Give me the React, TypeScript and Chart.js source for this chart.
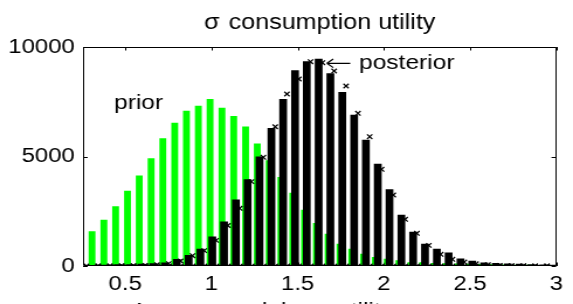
import React, { useEffect, useRef } from 'react';
import { Chart, registerables } from 'chart.js';

Chart.register(...registerables);

// ---- data ----
const priorBins = [0.307, 0.376, 0.444, 0.513, 0.581, 0.650, 0.718, 0.787, 0.855, 0.924, 0.992, 1.061, 1.129, 1.198, 1.266, 1.335, 1.403, 1.472, 1.540, 1.609, 1.677, 1.746, 1.814, 1.883, 1.951, 2.020, 2.088, 2.157, 2.225, 2.294, 2.362, 2.431, 2.499, 2.568, 2.636, 2.705, 2.773, 2.842, 2.910, 2.979];
const priorCounts = [1566, 2100, 2708, 3425, 4123, 4900, 5813, 6530, 7078, 7306, 7610, 7215, 6835, 6360, 5584, 4808, 4050, 3333, 2557, 1950, 1461, 1004, 776, 548, 397, 320, 242, 151, 151, 123, 110, 95, 85, 75, 65, 55, 45, 40, 35, 30];

const postBins = [0.319, 0.388, 0.456, 0.525, 0.593, 0.662, 0.730, 0.799, 0.868, 0.936, 1.005, 1.073, 1.142, 1.210, 1.279, 1.348, 1.416, 1.485, 1.553, 1.622, 1.690, 1.759, 1.828, 1.896, 1.965, 2.033, 2.102, 2.170, 2.239, 2.308, 2.376, 2.445, 2.513, 2.582, 2.650, 2.719, 2.788, 2.856, 2.925, 2.993];
const postCounts = [20, 40, 60, 70, 90, 110, 150, 306, 489, 776, 1330, 2015, 3027, 3950, 4985, 6290, 7612, 8918, 9329, 9452, 8781, 7932, 6895, 5753, 4650, 3490, 2329, 1550, 1000, 770, 607, 330, 230, 150, 120, 100, 90, 70, 50, 40];

const markerBins = [0.341, 0.410, 0.478, 0.547, 0.615, 0.684, 0.752, 0.821, 0.890, 0.958, 1.027, 1.095, 1.164, 1.232, 1.301, 1.370, 1.438, 1.507, 1.575, 1.644, 1.712, 1.781, 1.850, 1.918, 1.987, 2.055, 2.124, 2.192, 2.261, 2.330, 2.398, 2.467, 2.535, 2.604, 2.672, 2.741, 2.810, 2.878, 2.947];
const markerCounts = [0, 0, 10, 20, 30, 60, 110, 228, 470, 700, 1170, 1850, 2635, 3850, 4963, 6360, 7854, 8539, 9329, 9283, 8904, 8219, 6973, 5904, 4416, 3242, 2132, 1493, 940, 534, 306, 180, 100, 60, 30, 20, 10, 0, 0];

const baseMarkerBins = [0.275, 0.344, 0.412, 0.481, 0.549, 0.618, 0.686, 0.755, 0.823, 0.892, 0.960, 1.029, 1.097, 1.166, 1.234, 1.303, 1.371, 1.440, 1.508, 1.577, 1.645, 1.714, 1.782, 1.851, 1.919, 1.988, 2.056, 2.125, 2.193, 2.262, 2.330, 2.399, 2.467, 2.536, 2.604, 2.673, 2.741, 2.810, 2.878, 2.947];
const baseMarkerCounts = [0, 0, 0, 0, 0, 0, 0, 0, 0, 0, 0, 0, 0, 0, 0, 0, 0, 0, 0, 0, 0, 0, 0, 0, 0, 0, 0, 0, 0, 0, 0, 0, 0, 0, 0, 0, 0, 0, 0, 0];

const xTicks = [0.5, 1, 1.5, 2, 2.5, 3];
const yTicks = [0, 5000, 10000];
const xMin = 0.255;
const xMax = 3;
const yMin = 0;
const yMax = 10000;

const titleSigma = 'σ';
const titleText = 'consumption utility';
const priorLabel = 'prior';
const posteriorLabel = 'posterior';
const bottomTextA = '4';
const bottomTextB = 'labour utility';

// ---- layout ----
const CW = 490;
const CH = 304;
const DW = 573;
const FONT = '"Liberation Sans", Arial, Helvetica, sans-serif';

const overlayPlugin = {
  id: 'matlabOverlay',
  beforeDatasetsDraw(chart: any) {
    const { ctx, chartArea, scales } = chart;
    const { left, right, top, bottom } = chartArea;
    ctx.save();
    ctx.strokeStyle = '#000';
    ctx.lineWidth = 1;
    ctx.beginPath();
    for (const v of xTicks) {
      const px = Math.round(scales.x.getPixelForValue(v)) + 0.5;
      ctx.moveTo(px, top);
      ctx.lineTo(px, top + 3.5);
      ctx.moveTo(px, bottom);
      ctx.lineTo(px, bottom - 3.5);
    }
    for (const v of yTicks) {
      const py = Math.round(scales.y.getPixelForValue(v)) + 0.5;
      ctx.moveTo(left, py);
      ctx.lineTo(left + 4, py);
      ctx.moveTo(right, py);
      ctx.lineTo(right - 4, py);
    }
    ctx.stroke();
    ctx.restore();
  },
  afterDatasetsDraw(chart: any) {
    const { ctx, chartArea } = chart;
    const { left, right, top, bottom } = chartArea;
    ctx.save();
    ctx.strokeStyle = '#000';
    ctx.lineWidth = 1;
    ctx.beginPath();
    ctx.moveTo(Math.round(left) + 0.5, Math.round(top) + 0.5);
    ctx.lineTo(Math.round(right) - 0.5, Math.round(top) + 0.5);
    ctx.lineTo(Math.round(right) - 0.5, Math.round(bottom) - 0.5);
    ctx.lineTo(Math.round(left) + 0.5, Math.round(bottom) - 0.5);
    ctx.closePath();
    ctx.stroke();

    ctx.fillStyle = '#000';
    ctx.textBaseline = 'alphabetic';
    ctx.textAlign = 'left';
    ctx.font = `21.5px ${FONT}`;
    ctx.fillText(titleSigma, 174.5, 28.5);
    ctx.fillText(titleText, 195.5, 28.5);
    ctx.font = `21px ${FONT}`;
    ctx.fillText(priorLabel, 97.5, 108.5);
    ctx.fillText(posteriorLabel, 307, 68.5);
    ctx.fillText(bottomTextA, 111.2, 317);
    ctx.fillText(bottomTextB, 224, 317);

    // left arrow
    ctx.lineWidth = 1.2;
    ctx.beginPath();
    ctx.moveTo(279.5, 63.3);
    ctx.lineTo(299.5, 63.3);
    ctx.moveTo(279.5, 63.3);
    ctx.lineTo(285, 59);
    ctx.moveTo(279.5, 63.3);
    ctx.lineTo(285, 67.6);
    ctx.stroke();
    ctx.restore();
  },
};

export default function App() {
  const canvasRef = useRef<HTMLCanvasElement | null>(null);

  useEffect(() => {
    const canvas = canvasRef.current;
    if (!canvas) return;
    const tickFont = { family: FONT, size: 20.5 };
    const chart = new Chart(canvas, {
      type: 'bar',
      data: {
        datasets: [
          {
            type: 'scatter',
            label: 'marks',
            data: markerBins.map((x, i) => ({ x, y: markerCounts[i] })),
            pointStyle: 'crossRot',
            pointRadius: 3.2,
            borderColor: '#000',
            backgroundColor: '#000',
            borderWidth: 1.2,
            order: 0,
          } as any,
          {
            type: 'scatter',
            label: 'base marks',
            data: baseMarkerBins.map((x, i) => ({ x, y: baseMarkerCounts[i] })),
            pointStyle: 'crossRot',
            pointRadius: 3.2,
            borderColor: '#000',
            backgroundColor: '#000',
            borderWidth: 1.2,
            order: 0,
          } as any,
          {
            type: 'bar',
            label: 'posterior',
            data: postBins.map((x, i) => ({ x, y: postCounts[i] })),
            backgroundColor: '#000000',
            borderWidth: 0,
            barThickness: 6,
            grouped: false,
            order: 1,
          } as any,
          {
            type: 'bar',
            label: 'prior',
            data: priorBins.map((x, i) => ({ x, y: priorCounts[i] })),
            backgroundColor: '#00ff00',
            borderWidth: 0,
            barThickness: 5.2,
            grouped: false,
            order: 2,
          } as any,
        ],
      },
      options: {
        responsive: false,
        maintainAspectRatio: false,
        devicePixelRatio: 1,
        animation: false,
        layout: { padding: { top: 47, right: CW - 475.6, left: 0, bottom: 0 } },
        plugins: {
          legend: { display: false },
          tooltip: { enabled: false },
          title: { display: false },
        },
        scales: {
          x: {
            type: 'linear',
            min: xMin,
            max: xMax,
            offset: false,
            grid: { display: false, drawTicks: false },
            border: { display: false },
            ticks: {
              font: tickFont,
              color: '#000',
              padding: 6,
              autoSkip: false,
              maxRotation: 0,
              callback: (v: any) => String(v),
            },
            afterBuildTicks: (s: any) => {
              s.ticks = xTicks.map((v) => ({ value: v }));
            },
            afterFit: (s: any) => {
              s.height = 38;
            },
          },
          y: {
            type: 'linear',
            min: yMin,
            max: yMax,
            grid: { display: false, drawTicks: false },
            border: { display: false },
            ticks: {
              font: tickFont,
              color: '#000',
              padding: 7,
              autoSkip: false,
              callback: (v: any) => String(v),
            },
            afterBuildTicks: (s: any) => {
              s.ticks = yTicks.map((v) => ({ value: v }));
            },
            afterFit: (s: any) => {
              s.width = 71;
            },
          },
        },
      } as any,
      plugins: [overlayPlugin],
    });
    return () => chart.destroy();
  }, []);

  return (
    <div style={{ position: 'fixed', left: 0, top: 0, width: DW, height: CH, background: '#fff' }}>
      <canvas
        ref={canvasRef}
        width={CW}
        height={CH}
        style={{ width: `${DW}px`, height: `${CH}px`, display: 'block' }}
      />
    </div>
  );
}
